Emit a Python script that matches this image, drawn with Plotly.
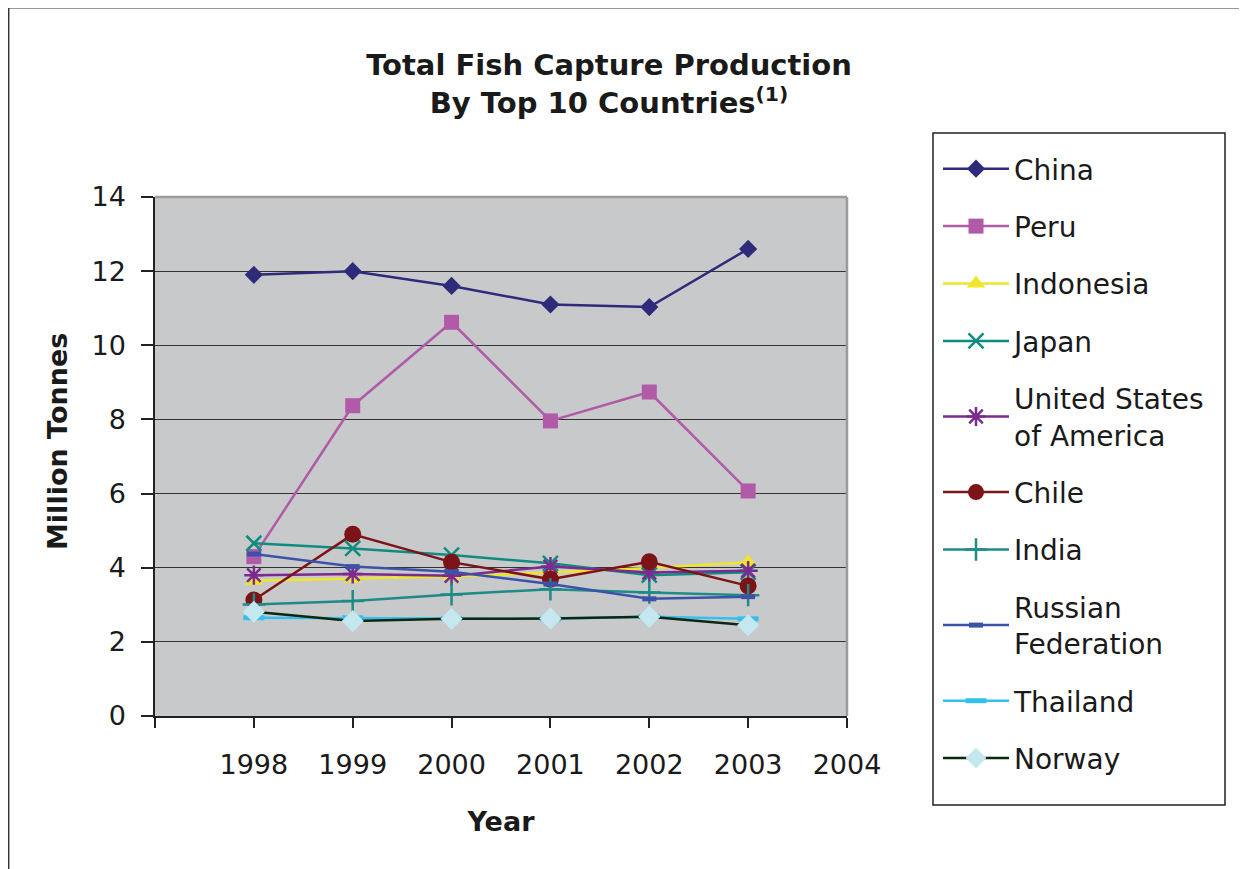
import plotly.graph_objects as go

years = [1998, 1999, 2000, 2001, 2002, 2003]
china = [11.9, 12.0, 11.6, 11.1, 11.03, 12.6]
peru = [4.3, 8.37, 10.62, 7.96, 8.74, 6.07]
indonesia = [3.65, 3.7, 3.76, 3.87, 3.99, 4.15]
japan = [4.66, 4.52, 4.34, 4.12, 3.8, 3.88]
usa = [3.8, 3.83, 3.78, 4.03, 3.87, 3.92]
chile = [3.13, 4.9, 4.15, 3.69, 4.16, 3.51]
india = [3.01, 3.1, 3.28, 3.42, 3.33, 3.26]
russia = [4.37, 4.03, 3.89, 3.56, 3.16, 3.22]
thailand = [2.65, 2.65, 2.63, 2.62, 2.68, 2.62]
norway = [2.81, 2.56, 2.62, 2.63, 2.68, 2.45]

tick_years = [1998, 1999, 2000, 2001, 2002, 2003, 2004]
tick_text = ["1998", "1999", "2000", "2001", "2002", "2003", "2004"]

FONT = "DejaVu Sans"

series = [
    ("China", china, "#2E2B7B", dict(symbol="diamond", size=14, color="#2E2B7B")),
    ("Peru", peru, "#B15BA8", dict(symbol="square", size=15, color="#B15BA8")),
    ("Indonesia", indonesia, "#EFE62C", dict(symbol="triangle-up", size=16, color="#EFE62C")),
    ("Japan", japan, "#0E8C7E", dict(symbol="x-thin-open", size=15, color="#0E8C7E",
                                     line=dict(width=2.5, color="#0E8C7E"))),
    ("United States<br>of America", usa, "#7B2B8F", dict(symbol="asterisk-open", size=16, color="#7B2B8F",
                                                         line=dict(width=2.5, color="#7B2B8F"))),
    ("Chile", chile, "#7C1316", dict(symbol="circle", size=17, color="#7C1316")),
    ("India", india, "#1E8B87", dict(symbol="cross-thin-open", size=16, color="#1E8B87",
                                     line=dict(width=2.5, color="#1E8B87"))),
    ("Russian<br>Federation", russia, "#3B52A8", dict(symbol="line-ew-open", size=10, color="#3B52A8",
                                                      line=dict(width=5, color="#3B52A8"))),
    ("Thailand", thailand, "#34C0EF", dict(symbol="line-ew-open", size=15, color="#34C0EF",
                                           line=dict(width=5, color="#34C0EF"))),
    ("Norway", norway, "#0B2710", dict(symbol="diamond", size=17, color="#C5E7EF")),
]

fig = go.Figure()
for i, (name, vals, lc, mk) in enumerate(series):
    fig.add_trace(go.Scatter(
        x=years, y=vals, name=name, mode="lines+markers",
        line=dict(color=lc, width=2.5), marker=mk, legendgroup=f"g{i}",
    ))

# page body adds an 8px offset; positions below are figure pixels
OFF = 8
W, H = 1247 - OFF, 869 - OFF
L, R, T, B = 155 - OFF, 847 - OFF, 197 - OFF, 716 - OFF

def px(sx):
    return (sx - OFF - L) / (R - L)

def py(sy):
    return (B - (sy - OFF)) / (B - T)

fig.update_layout(
    width=W, height=H,
    margin=dict(l=L, r=W - R, t=T, b=H - B, pad=0),
    paper_bgcolor="white",
    plot_bgcolor="#C8C9CB",
    font=dict(family=FONT, color="black", size=26),
    title=dict(
        text="<b>Total Fish Capture Production<br>By Top 10 Countries<sup>(1)</sup></b>",
        font=dict(family=FONT, size=29, color="#1A1A1A"),
        x=(609 - OFF) / W, xanchor="center", xref="container",
        y=1 - (75 - OFF) / H, yanchor="top", yref="container",
    ),
    xaxis=dict(
        range=[1997, 2004], tickvals=tick_years, ticktext=tick_text,
        showgrid=False, zeroline=False,
        showline=True, linecolor="#222222", linewidth=1.5,
        ticks="outside", ticklen=10, tickwidth=1.5, tickcolor="#222222",
        minor=dict(tick0=1997, dtick=1, ticks="outside", ticklen=10, tickwidth=1.5,
                   tickcolor="#222222", showgrid=False),
        tickfont=dict(family=FONT, size=27, color="#1A1A1A"),
        ticklabelstandoff=14,
        title=dict(text="<b>Year</b>", font=dict(family=FONT, size=27, color="#1A1A1A"), standoff=33),
    ),
    yaxis=dict(
        range=[0, 14], dtick=2, tick0=0,
        showgrid=True, gridcolor="#333333", gridwidth=1.2, zeroline=False,
        showline=True, linecolor="#222222", linewidth=1.5,
        ticks="outside", ticklen=12, tickwidth=1.5, tickcolor="#222222",
        tickfont=dict(family=FONT, size=27, color="#1A1A1A"),
        ticklabelstandoff=10,
    ),
    annotations=[
        dict(text="<b>Million Tonnes</b>", textangle=-90, showarrow=False,
             xref="paper", yref="paper", x=px(57), y=py(441),
             xanchor="center", yanchor="middle",
             font=dict(family=FONT, size=27, color="#1A1A1A")),
    ],
    legend=dict(
        x=px(938), y=py(144), xanchor="left", yanchor="top",
        borderwidth=0, bgcolor="rgba(0,0,0,0)",
        font=dict(family=FONT, size=28, color="#1A1A1A"),
        traceorder="grouped", tracegroupgap=18, itemwidth=66,
        maxheight=760,
    ),
    shapes=[
        dict(type="line", xref="paper", yref="paper", x0=0, x1=1, y0=1, y1=1,
             line=dict(color="#9C9C9C", width=2.5)),
        dict(type="line", xref="paper", yref="paper", x0=1, x1=1, y0=0, y1=1,
             line=dict(color="#9C9C9C", width=2.5)),
        dict(type="rect", xref="paper", yref="paper", x0=px(933), x1=px(1225), y0=py(805), y1=py(133),
             line=dict(color="#222222", width=1.5)),
        dict(type="line", xref="paper", yref="paper", x0=px(8.7), x1=px(1300), y0=py(7.7), y1=py(7.7),
             line=dict(color="#333333", width=1.5)),
        dict(type="line", xref="paper", yref="paper", x0=px(8.7), x1=px(8.7), y0=py(7.7), y1=py(900),
             line=dict(color="#333333", width=1.5)),
    ],
    showlegend=True,
)

fig.write_html("out.html")
